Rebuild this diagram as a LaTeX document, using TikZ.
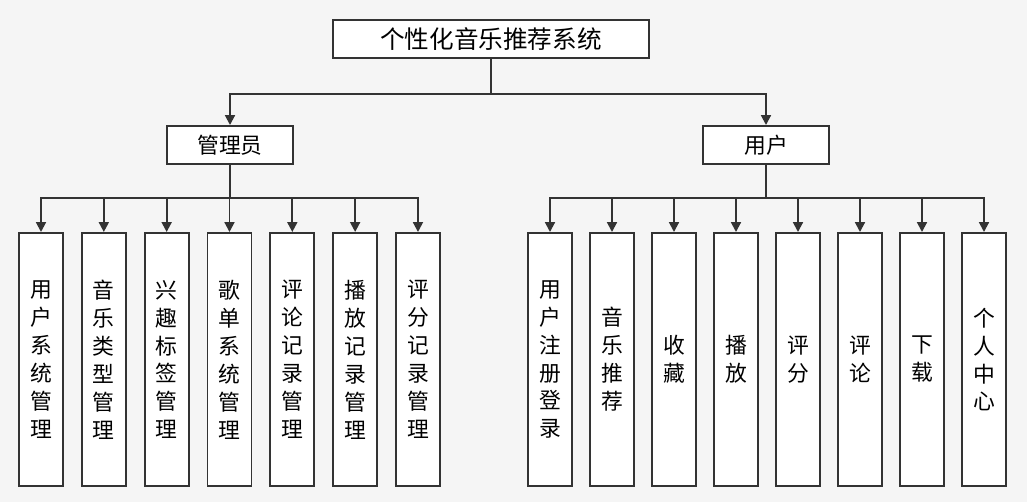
\documentclass[tikz,border=0pt]{standalone}
\usepackage{fontspec}
\setmainfont{Noto Sans CJK SC}
\usetikzlibrary{arrows.meta}

\begin{document}
\begin{tikzpicture}[x=0.025cm,y=-0.025cm,
  box/.style={draw=black!80,line width=1.4pt,fill=white,inner sep=0pt},
  leaf/.style={box,anchor=north,minimum width=1.1cm,minimum height=6.325cm,
    align=center,font=\fontsize{15.5}{19.9}\selectfont},
  arr/.style={draw=black!80,line width=1.4pt,-{Triangle[width=7pt,length=7pt]}}]
\useasboundingbox[fill=black!4] (0,0) rectangle (1027,502);

% upper levels
\node[box,minimum width=7.9cm,minimum height=0.95cm,
  font=\fontsize{17.5}{20}\selectfont] (sys) at (491,39) {个性化音乐推荐系统};
\node[box,minimum width=3.15cm,minimum height=0.95cm,
  font=\fontsize{15.5}{18}\selectfont] (admin) at (230,145) {管理员};
\node[box,minimum width=3.15cm,minimum height=0.95cm,
  font=\fontsize{15.5}{18}\selectfont] (user) at (766,145) {用户};

\draw[arr] (sys.south) -- ++(0,35) -| (admin.north);
\draw[arr] (sys.south) -- ++(0,35) -| (user.north);

% admin functions
\foreach \t [count=\i from 0] in {{用\\户\\系\\统\\管\\理},{音\\乐\\类\\型\\管\\理},
  {兴\\趣\\标\\签\\管\\理},{歌\\单\\系\\统\\管\\理},{评\\论\\记\\录\\管\\理},
  {播\\放\\记\\录\\管\\理},{评\\分\\记\\录\\管\\理}}
{
  \node[leaf] (a\i) at ({41+62.83*\i},232) {\t};
  \draw[arr] (admin.south) -- ++(0,33) -| (a\i.north);
}

% user functions
\foreach \t [count=\i from 0] in {{用\\户\\注\\册\\登\\录},{音\\乐\\推\\荐},
  {收\\藏},{播\\放},{评\\分},{评\\论},{下\\载},{个\\人\\中\\心}}
{
  \node[leaf] (u\i) at ({550+62*\i},232) {\t};
  \draw[arr] (user.south) -- ++(0,33) -| (u\i.north);
}
\end{tikzpicture}
\end{document}
